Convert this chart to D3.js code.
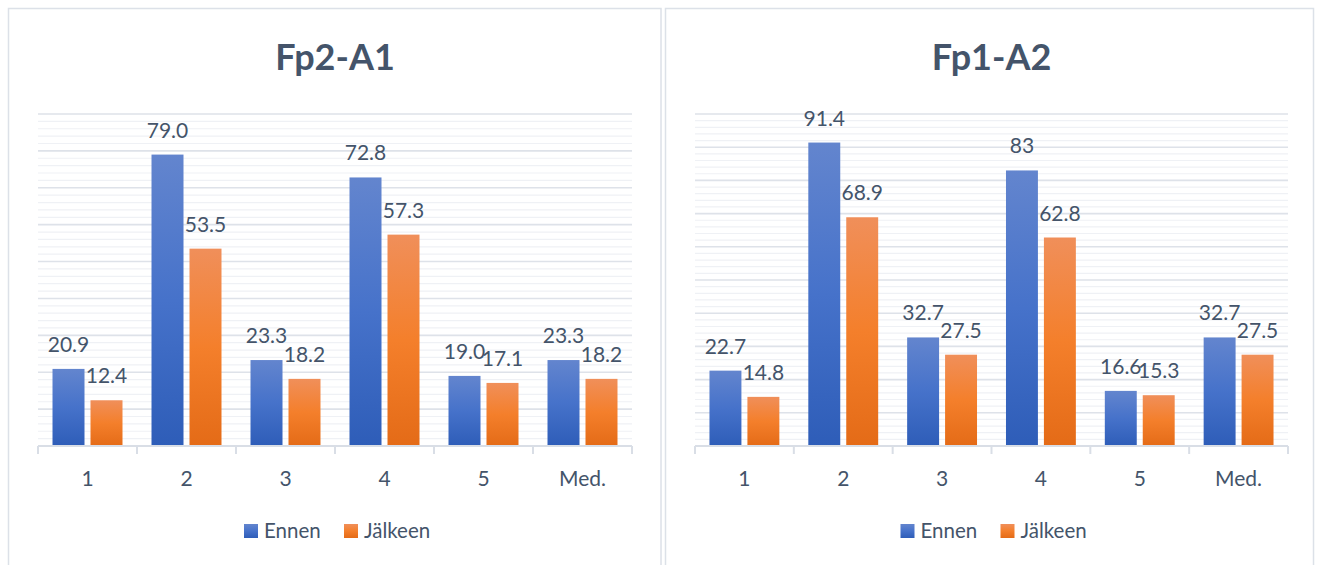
<!DOCTYPE html>
<html>
<head>
<meta charset="utf-8">
<script src="https://cdn.jsdelivr.net/npm/d3@7"></script>
<style>
  html, body { margin: 0; padding: 0; background: #ffffff; }
  svg { display: block; }
  text { font-family: Lato, "Open Sans", sans-serif; fill: #44546A; }
</style>
</head>
<body>
<svg id="chart" width="1317" height="565"></svg>
<script>
// Categories and series shared by both panels
const categories = ["1", "2", "3", "4", "5", "Med."];
const seriesNames = ["Ennen", "Jälkeen"];

// Fp2-A1 values
const fp2a1Ennen   = [20.9, 79.0, 23.3, 72.8, 19.0, 23.3];
const fp2a1Jalkeen = [12.4, 53.5, 18.2, 57.3, 17.1, 18.2];

// Fp1-A2 values
const fp1a2Ennen   = [22.7, 91.4, 32.7, 83, 16.6, 32.7];
const fp1a2Jalkeen = [14.8, 68.9, 27.5, 62.8, 15.3, 27.5];

const panels = [
  { title: "Fp2-A1", ennen: fp2a1Ennen, jalkeen: fp2a1Jalkeen, yMax: 90, fmt: d3.format(".1f"),
    box: [8.5, 8.5, 652.5], plot: [38, 632] },
  { title: "Fp1-A2", ennen: fp1a2Ennen, jalkeen: fp1a2Jalkeen, yMax: 100, fmt: v => String(v),
    box: [665.5, 8.5, 648], plot: [695, 1288] }
];

const svg = d3.select("#chart");
const defs = svg.append("defs");

// Vertical gradients for the bar fills
function gradient(id, stops) {
  const g = defs.append("linearGradient").attr("id", id)
    .attr("x1", 0).attr("y1", 0).attr("x2", 0).attr("y2", 1);
  stops.forEach(([o, c]) => g.append("stop").attr("offset", o).attr("stop-color", c));
}
gradient("gEnnen", [[0, "#6385CE"], [0.5, "#4672CA"], [1, "#2E5DB8"]]);
gradient("gJalkeen", [[0, "#F08F5A"], [0.5, "#F47F2B"], [1, "#E46B17"]]);
const fills = { "Ennen": "url(#gEnnen)", "Jälkeen": "url(#gJalkeen)" };

const yTop = 114, yBase = 446;

panels.forEach(p => {
  const g = svg.append("g");

  // panel frame
  g.append("rect")
    .attr("x", p.box[0]).attr("y", p.box[1])
    .attr("width", p.box[2]).attr("height", 600)
    .attr("fill", "#ffffff").attr("stroke", "#DCE1E8").attr("stroke-width", 1.5);

  const x0 = d3.scaleBand().domain(categories).range(p.plot).padding(0);
  const step = x0.step();
  const x1 = d3.scaleBand().domain(seriesNames)
    .range([step * 0.1465, step * 0.8535]).paddingInner(0.158).paddingOuter(0);
  const y = d3.scaleLinear().domain([0, p.yMax]).range([yBase, yTop]);

  // gridlines: minor every 2, major every 10
  const minor = d3.range(2, p.yMax + 0.001, 2).filter(v => v % 10 !== 0);
  const major = d3.range(10, p.yMax + 0.001, 10);
  g.selectAll(".minor").data(minor).join("line")
    .attr("x1", p.plot[0]).attr("x2", p.plot[1])
    .attr("y1", d => y(d)).attr("y2", d => y(d))
    .attr("stroke", "#EFF1F5").attr("stroke-width", 1.2);
  g.selectAll(".major").data(major).join("line")
    .attr("x1", p.plot[0]).attr("x2", p.plot[1])
    .attr("y1", d => y(d)).attr("y2", d => y(d))
    .attr("stroke", "#DEE2E9").attr("stroke-width", 1.6);

  // title
  g.append("text")
    .attr("x", (p.plot[0] + p.plot[1]) / 2).attr("y", 70)
    .attr("text-anchor", "middle")
    .style("font-size", "36px").style("font-weight", "bold")
    .text(p.title);

  const rows = categories.map((c, i) => ({
    cat: c,
    vals: [{ s: "Ennen", v: p.ennen[i] }, { s: "Jälkeen", v: p.jalkeen[i] }]
  }));

  const groups = g.selectAll(".grp").data(rows).join("g")
    .attr("transform", d => `translate(${x0(d.cat)},0)`);

  groups.selectAll("rect").data(d => d.vals).join("rect")
    .attr("x", d => x1(d.s)).attr("width", x1.bandwidth())
    .attr("y", d => y(d.v)).attr("height", d => yBase - y(d.v))
    .attr("fill", d => fills[d.s]);

  groups.selectAll("text").data(d => d.vals).join("text")
    .attr("x", d => x1(d.s) + x1.bandwidth() / 2)
    .attr("y", d => y(d.v) - 17)
    .attr("text-anchor", "middle")
    .style("font-size", "21px")
    .text(d => p.fmt(d.v));

  // category axis
  const axis = g.append("g").attr("transform", `translate(0,${yBase})`);
  axis.append("line").attr("x1", p.plot[0]).attr("x2", p.plot[1])
    .attr("stroke", "#D9DEE6").attr("stroke-width", 2);
  const bounds = d3.range(categories.length + 1).map(i => p.plot[0] + i * step);
  axis.selectAll(".tk").data(bounds).join("line")
    .attr("x1", d => d).attr("x2", d => d).attr("y1", 0).attr("y2", 8)
    .attr("stroke", "#D9DEE6").attr("stroke-width", 2);
  axis.selectAll(".cl").data(categories).join("text")
    .attr("x", d => x0(d) + step / 2).attr("y", 40)
    .attr("text-anchor", "middle")
    .style("font-size", "21px")
    .text(d => d);

  // legend
  const cx = (p.plot[0] + p.plot[1]) / 2;
  const leg = g.append("g");
  const legItems = [
    { s: "Ennen", x: cx - 91 },
    { s: "Jälkeen", x: cx + 9 }
  ];
  legItems.forEach(it => {
    leg.append("rect").attr("x", it.x).attr("y", 524)
      .attr("width", 14).attr("height", 14).attr("fill", fills[it.s]);
    leg.append("text").attr("x", it.x + 20).attr("y", 538)
      .style("font-size", "20.5px").text(it.s);
  });
});
</script>
</body>
</html>
